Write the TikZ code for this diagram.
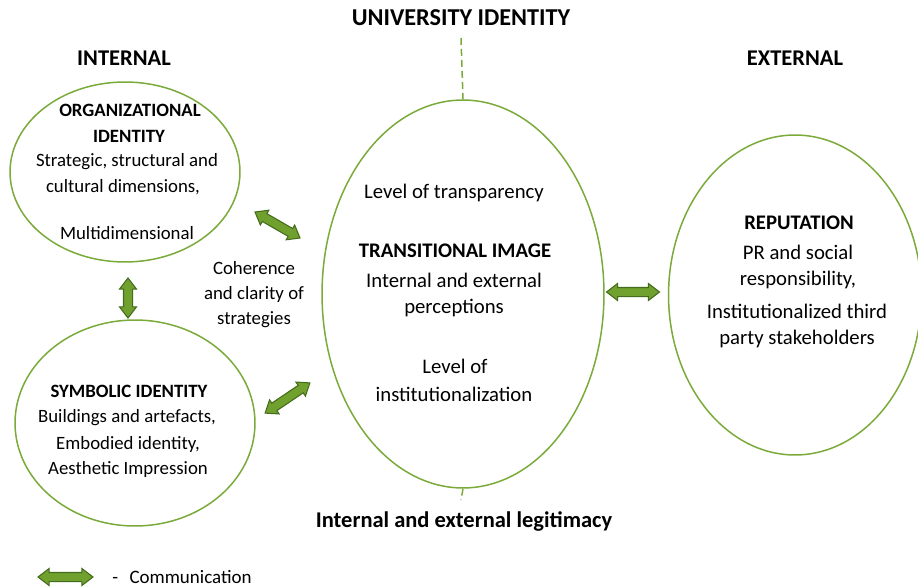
\documentclass[tikz,border=0pt]{standalone}
\usepackage{fontspec}
\setmainfont{Carlito}
\usetikzlibrary{shapes.geometric}
\usetikzlibrary{shapes.arrows}
\usepackage{xcolor}

\definecolor{rimgreen}{RGB}{122,170,58}
\definecolor{arrowfill}{RGB}{112,160,46}
\definecolor{arrowline}{RGB}{68,108,28}

\tikzset{
    blob/.style={ellipse, draw=rimgreen, line width=0.03cm, inner sep=0pt},
    txt/.style={inner sep=0pt, font=\fontsize{11.8}{14}\selectfont},
    head/.style={txt, font=\fontsize{11.8}{14}\selectfont\bfseries},
    ltxt/.style={txt, font=\fontsize{10.7}{13}\selectfont},
    lhead/.style={txt, font=\fontsize{10.7}{13}\selectfont\bfseries},
    title/.style={txt, font=\fontsize{12.8}{15}\selectfont\bfseries},
    commarrow/.style={double arrow, draw=arrowline, fill=arrowfill, line width=0.6pt,
        inner sep=0pt, inner ysep=0.08cm, double arrow head extend=0.08cm,
        double arrow tip angle=75},
}

\begin{document}
\begin{tikzpicture}[x=0.02cm, y=-0.02cm]

\useasboundingbox (0,0) rectangle (918,587);

% the four ellipses
\node[blob, minimum width=4.6cm, minimum height=3.6cm] (org) at (125,172) {};
\node[blob, minimum width=4.8cm, minimum height=4.12cm] (sym) at (135,423) {};
\node[blob, minimum width=5.64cm, minimum height=7.76cm] (img) at (463,294) {};
\node[blob, minimum width=5.06cm, minimum height=6.4cm] (rep) at (795,295) {};

% dashed ties above and below the middle one
\coordinate (top) at (461,38);
\coordinate (bot) at (461,500);
\draw[rimgreen, line width=0.03cm, dash pattern=on 0.14cm off 0.08cm] (top) -- (img.north);
\draw[rimgreen, line width=0.03cm, dash pattern=on 0.14cm off 0.08cm] (img.south) -- (bot);

% headings
\node[title, font=\fontsize{13.8}{16}\selectfont\bfseries] (uni) at (461,18) {UNIVERSITY IDENTITY};
\node[title] (int) at (124,58) {INTERNAL};
\node[title] (ext) at (795,58) {EXTERNAL};
\node[title] (leg) at (464,521) {Internal and external legitimacy};

% organizational identity
\node[lhead] (org1) at (130,110) {ORGANIZATIONAL};
\node[lhead] (org2) at (129,136) {IDENTITY};
\node[ltxt] (org3) at (127,162) {Strategic, structural and};
\node[ltxt] (org4) at (123,187) {cultural dimensions,};
\node[ltxt] (org5) at (127,233) {Multidimensional};

% coherence
\node[ltxt] (coh1) at (254,268) {Coherence};
\node[ltxt] (coh2) at (254,294) {and clarity of};
\node[ltxt] (coh3) at (254,320) {strategies};

% symbolic identity
\node[lhead] (sym1) at (129,391) {SYMBOLIC IDENTITY};
\node[ltxt] (sym2) at (127,418) {Buildings and artefacts,};
\node[ltxt] (sym3) at (128,444) {Embodied identity,};
\node[ltxt] (sym4) at (128,469) {Aesthetic Impression};

% transitional image
\node[txt] (img1) at (454,193) {Level of transparency};
\node[head] (img2) at (455,251) {TRANSITIONAL IMAGE};
\node[txt] (img3) at (454,280) {Internal and external};
\node[txt] (img4) at (454,308) {perceptions};
\node[txt] (img5) at (455,366) {Level of};
\node[txt] (img6) at (454,394) {institutionalization};

% reputation
\node[head] (rep1) at (799,223) {REPUTATION};
\node[txt] (rep2) at (798,252) {PR and social};
\node[txt] (rep3) at (798,280) {responsibility,};
\node[txt] (rep4) at (797,311) {Institutionalized third};
\node[txt] (rep5) at (797,339) {party stakeholders};

% communication arrows
\node[commarrow, minimum height=1.04cm, rotate=-30] (a1) at (277.5,225) {};
\node[commarrow, minimum height=0.8cm, rotate=90] (a2) at (128,298) {};
\node[commarrow, minimum height=1.08cm, rotate=34] (a3) at (287.5,398) {};
\node[commarrow, minimum height=1.06cm] (a4) at (633,292) {};

% legend
\node[commarrow, minimum height=1.1cm] (key) at (65.5,577) {};
\node[txt, anchor=west, font=\fontsize{10.8}{13}\selectfont] (keytxt) at (112,577) {-\hspace{0.6em}Communication};

\end{tikzpicture}
\end{document}
